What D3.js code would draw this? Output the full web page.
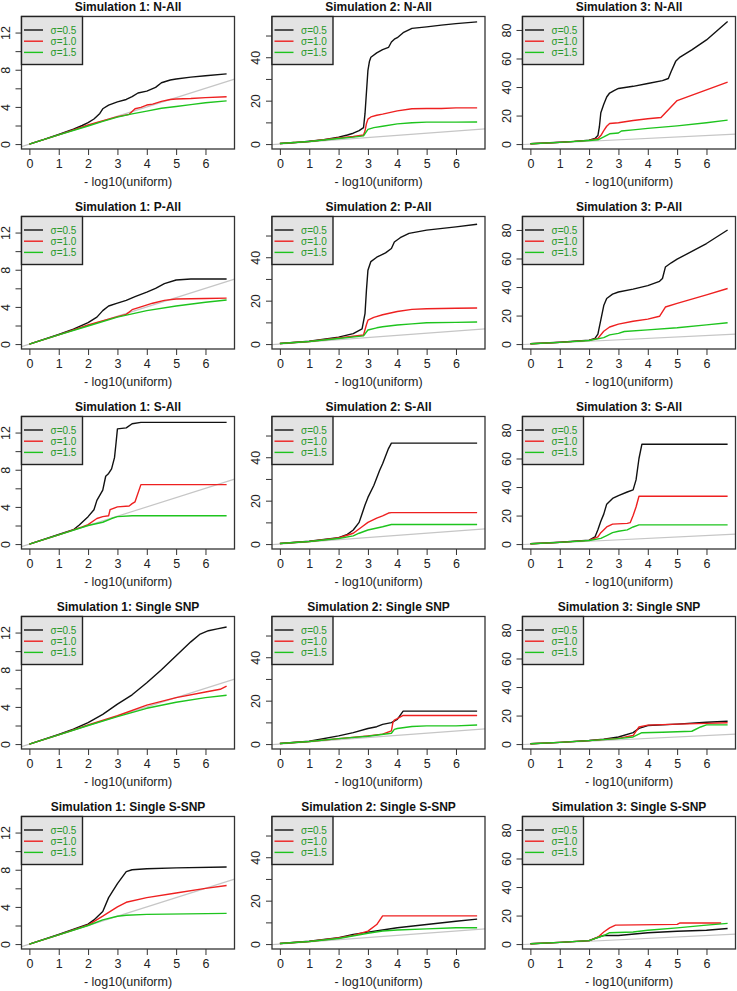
<!DOCTYPE html>
<html><head><meta charset="utf-8">
<script src="https://cdn.jsdelivr.net/npm/d3@7"></script>
<style>body{margin:0;background:#fff}svg{display:block}</style>
</head><body><svg id="c" width="737" height="991"></svg>
<script>
// ---------- labels / ticks ----------
const sims = ["Simulation 1", "Simulation 2", "Simulation 3"];
const rowNames = ["N-All", "P-All", "S-All", "Single SNP", "Single S-SNP"];
const sigmaLabels = ["σ=0.5", "σ=1.0", "σ=1.5"];
const xLabel = "- log10(uniform)";
const xTicks = [0, 1, 2, 3, 4, 5, 6];
const xMax = 6.72;
const yMax = [13.2, 56.5, 86];
const yTicks1 = [0, 2, 4, 6, 8, 10, 12];
const yLabels1 = [0, 4, 8, 12];
const yTicks2 = [0, 10, 20, 30, 40, 50];
const yLabels2 = [0, 20, 40];
const yTicks3 = [0, 20, 40, 60, 80];
const yLabels3 = [0, 20, 40, 60, 80];

// ---------- series: [-log10(expected), -log10(observed)] ----------
// Row 1: N-All
const s1_nall_05 = [[0,0],[0.5,0.5],[1,1.05],[1.5,1.6],[1.8,2.0],[2,2.3],[2.2,2.7],[2.4,3.3],[2.5,3.8],[2.7,4.2],[3,4.55],[3.3,4.8],[3.5,5.1],[3.7,5.5],[4,5.7],[4.3,6.1],[4.5,6.6],[4.8,6.9],[5,7.0],[5.5,7.2],[6,7.35],[6.72,7.55]];
const s1_nall_10 = [[0,0],[1,1],[2,2.05],[3,2.95],[3.4,3.2],[3.6,3.8],[3.8,3.95],[4,4.2],[4.2,4.3],[4.5,4.6],[4.8,4.8],[5,4.85],[5.5,4.9],[6,5.0],[6.72,5.1]];
const s1_nall_15 = [[0,0],[1,1],[2,1.95],[2.5,2.45],[3,2.9],[3.5,3.25],[4,3.55],[4.5,3.85],[5,4.05],[5.5,4.25],[6,4.45],[6.72,4.65]];
const s2_nall_05 = [[0,0.3],[0.5,0.7],[1,1.3],[1.5,2.0],[2,3.2],[2.3,4.2],[2.5,5],[2.7,6.2],[2.85,7.6],[2.9,14],[2.95,24],[3.0,34],[3.05,38],[3.1,40],[3.3,42],[3.5,43.5],[3.7,44.5],[3.8,47],[3.9,48.3],[4,49],[4.2,51.3],[4.5,53.3],[5,54],[5.5,54.8],[6,55.5],[6.72,56.3]];
const s2_nall_10 = [[0,0.3],[1,1.2],[2,2.8],[2.5,3.5],[2.85,4.2],[2.9,6],[2.95,9.5],[3,11.5],[3.1,12.5],[3.3,13.3],[3.5,13.8],[4,15.3],[4.5,16.3],[5,16.4],[5.5,16.4],[6,16.7],[6.72,16.7]];
const s2_nall_15 = [[0,0.3],[1,1.2],[2,2.6],[2.5,3.2],[2.85,3.8],[3,6.8],[3.2,7.6],[3.5,8.2],[4,9.3],[4.5,9.8],[5,10.1],[6,10.1],[6.72,10.2]];
const s3_nall_05 = [[0,0.2],[1,1.3],[1.5,1.9],[2,2.8],[2.2,4],[2.3,6],[2.35,12],[2.4,22],[2.5,28],[2.6,33],[2.7,35.8],[2.85,37.5],[3,39],[3.5,40.5],[4,42.5],[4.5,44.5],[4.7,46],[4.8,51],[4.95,58],[5.1,61],[5.5,66],[6,73],[6.72,86]];
const s3_nall_10 = [[0,0.2],[1,1.2],[2,2.6],[2.3,4],[2.4,6],[2.5,9.5],[2.6,12.5],[2.7,14.4],[3,15],[3.5,16.5],[4,17.8],[4.45,18.6],[5,30.5],[6.72,43.5]];
const s3_nall_15 = [[0,0.2],[1,1.2],[2,2.5],[2.3,3],[2.5,5],[2.7,7.2],[3,7.8],[3.1,9.2],[3.5,10],[4,11],[5,12.8],[6,15],[6.72,16.8]];
// Row 2: P-All
const s1_pall_05 = [[0,0],[1,1.05],[1.5,1.6],[2,2.3],[2.3,2.9],[2.5,3.6],[2.7,4.1],[3,4.4],[3.3,4.7],[3.6,5.1],[4,5.6],[4.3,6.0],[4.6,6.5],[5,6.9],[5.5,7.0],[6.72,7.0]];
const s1_pall_10 = [[0,0],[1,1],[2,2.05],[3,2.95],[3.3,3.2],[3.5,3.7],[3.8,4.0],[4.2,4.4],[4.6,4.7],[5,4.85],[6,4.9],[6.72,4.95]];
const s1_pall_15 = [[0,0],[1,1],[2,1.95],[3,2.9],[4,3.6],[5,4.1],[6,4.5],[6.72,4.75]];
const s2_pall_05 = [[0,0.3],[1,1.3],[2,3.2],[2.5,4.8],[2.8,7],[2.9,14],[2.95,25],[3,34],[3.1,38],[3.3,40],[3.6,42],[3.8,44],[3.9,47],[4.1,49],[4.4,51],[5,52.5],[6,54],[6.72,55.2]];
const s2_pall_10 = [[0,0.3],[1,1.2],[2,2.8],[2.85,4.2],[2.95,9],[3,11],[3.2,12.3],[3.5,13.5],[4,15],[4.5,16],[5,16.3],[6,16.5],[6.72,16.6]];
const s2_pall_15 = [[0,0.3],[1,1.2],[2,2.6],[2.85,3.8],[3,6.5],[3.3,7.5],[3.5,8],[4,8.8],[4.5,9.3],[5,9.8],[6,10],[6.72,10.2]];
const s3_pall_05 = [[0,0.2],[1,1.3],[2,2.8],[2.2,4],[2.3,7],[2.4,17],[2.5,27],[2.6,32],[2.8,35],[3,36.5],[3.5,38.5],[4,41],[4.4,44],[4.5,46],[4.6,54],[4.8,57],[5,59.5],[6,70.5],[6.72,80]];
const s3_pall_10 = [[0,0.2],[1,1.2],[2,2.6],[2.3,4],[2.5,9],[2.7,12],[3,14],[3.5,16],[4,17.5],[4.4,19.5],[4.6,26],[5,28.5],[6,34.5],[6.72,39]];
const s3_pall_15 = [[0,0.2],[1,1.2],[2,2.5],[2.5,4.5],[2.7,6.5],[3,7.5],[3.2,8.8],[4,10],[5,11.5],[6,13.5],[6.72,15]];
// Row 3: S-All
const s1_sall_05 = [[0,0],[1,1.05],[1.5,1.55],[1.7,2.05],[2,2.95],[2.2,3.7],[2.3,4.7],[2.5,5.8],[2.6,7.3],[2.7,7.6],[2.8,8.1],[2.9,9.3],[2.95,10.8],[3,12.4],[3.3,12.5],[3.5,12.95],[3.8,13.1],[6.72,13.1]];
const s1_sall_10 = [[0,0],[1,1],[1.8,1.85],[2,2.1],[2.3,2.75],[2.5,2.95],[2.7,3.05],[2.75,3.7],[3,4.0],[3.4,4.1],[3.5,4.35],[3.6,4.55],[3.8,6.4],[6.72,6.4]];
const s1_sall_15 = [[0,0],[1,1],[2,2.0],[2.5,2.35],[2.8,2.75],[3,2.95],[3.5,3.05],[6.72,3.05]];
const s2_sall_05 = [[0,0.3],[1,1.3],[2,3],[2.3,4.5],[2.5,6.5],[2.7,10],[2.8,14],[2.9,18],[3,21.5],[3.2,27],[3.4,34],[3.5,37],[3.7,44],[3.8,46.5],[6.72,46.5]];
const s2_sall_10 = [[0,0.3],[1,1.2],[2,2.8],[2.5,5],[2.8,8],[3,10],[3.3,12],[3.5,13],[3.7,14.3],[3.8,14.5],[6.72,14.5]];
const s2_sall_15 = [[0,0.3],[1,1.2],[2,2.6],[2.5,3.8],[2.7,5],[3,6.5],[3.5,8],[3.8,9],[6.72,9]];
const s3_sall_05 = [[0,0.2],[1,1.3],[2,2.8],[2.2,5],[2.3,10],[2.4,16],[2.5,21],[2.6,28],[2.8,32],[3,34],[3.3,36.5],[3.5,38],[3.6,45],[3.7,60],[3.8,70],[6.72,70]];
const s3_sall_10 = [[0,0.2],[1,1.2],[2,2.6],[2.3,5],[2.4,8],[2.6,12],[2.8,14],[3.3,14.5],[3.4,15],[3.5,20],[3.6,26],[3.7,33.5],[6.72,33.5]];
const s3_sall_15 = [[0,0.2],[1,1.2],[2,2.5],[2.4,4],[2.6,6],[2.8,8],[3,9],[3.3,10],[3.5,12],[3.7,13.5],[6.72,13.5]];
// Row 4: Single SNP
const s1_snp_05 = [[0,0],[1,1.05],[1.5,1.6],[2,2.3],[2.5,3.2],[3,4.3],[3.5,5.3],[4,6.6],[4.5,8.0],[5,9.5],[5.5,11],[5.8,11.8],[6.1,12.2],[6.4,12.4],[6.72,12.6]];
const s1_snp_10 = [[0,0],[1,1],[2,2.05],[3,3.05],[4,4.2],[5,5.0],[6,5.6],[6.5,5.9],[6.72,6.25]];
const s1_snp_15 = [[0,0],[1,1],[2,2.0],[3,2.95],[4,3.85],[5,4.5],[6,5.0],[6.72,5.25]];
const s2_snp_05 = [[0,0.3],[1,1.3],[2,3.8],[2.5,5.3],[3,7.2],[3.3,8],[3.5,9.1],[3.8,9.9],[4,11.4],[4.2,15.2],[6.72,15.2]];
const s2_snp_10 = [[0,0.3],[1,1.2],[2,2.5],[3,3.8],[3.5,4.6],[3.8,6.1],[3.85,9.9],[3.9,11],[4,11.7],[4.2,13.2],[6.72,13.2]];
const s2_snp_15 = [[0,0.3],[1,1.2],[2,2.5],[3,3.6],[3.8,5],[3.9,6.8],[4,7.2],[4.5,8.1],[5,8.4],[6,8.4],[6.72,8.8]];
const s3_snp_05 = [[0,0.2],[1,1.2],[2,2.5],[2.5,3.5],[3,5],[3.5,8],[3.7,11],[4,13],[5,14],[6,15.3],[6.72,16]];
const s3_snp_10 = [[0,0.2],[1,1.2],[2,2.4],[3,4],[3.5,6],[3.7,12],[4,13.3],[5,14],[6,14.5],[6.72,15]];
const s3_snp_15 = [[0,0.2],[1,1.2],[2,2.4],[3,3.8],[3.5,5],[3.8,8],[4.5,8.3],[5.5,9],[5.8,12],[6,13.5],[6.72,13.5]];
// Row 5: Single S-SNP
const s1_ssnp_05 = [[0,0],[1,1.05],[2,2.15],[2.2,2.6],[2.5,3.5],[2.7,5],[3,6.5],[3.3,7.8],[3.5,8.0],[4,8.1],[5,8.2],[6.72,8.3]];
const s1_ssnp_10 = [[0,0],[1,1],[2,2.05],[2.5,3.0],[3,4.0],[3.3,4.5],[4,5],[5,5.5],[6,6],[6.72,6.3]];
const s1_ssnp_15 = [[0,0],[1,1],[2,2.0],[2.5,2.6],[3,3.0],[3.3,3.1],[4,3.2],[6.72,3.3]];
const s2_ssnp_05 = [[0,0.3],[1,1.3],[2,3],[2.5,4.5],[3,5.5],[3.5,6.5],[4,7.5],[5,9],[6,10.5],[6.72,11.5]];
const s2_ssnp_10 = [[0,0.3],[1,1.2],[2,2.8],[2.5,4],[3,6],[3.3,9],[3.5,13],[6.72,13]];
const s2_ssnp_15 = [[0,0.3],[1,1.2],[2,2.6],[3,5],[3.5,6],[4,6.5],[5,7],[6,7.5],[6.72,7.5]];
const s3_ssnp_05 = [[0,0.2],[1,1.2],[2,2.4],[2.3,4.8],[2.5,6],[3,6],[4,8],[5,9],[6,9.7],[6.72,10.9]];
const s3_ssnp_10 = [[0,0.2],[1,1.2],[2,2.4],[2.3,4.8],[2.5,8.5],[2.7,11.4],[2.9,13.3],[5,13.8],[5.1,14.8],[6.5,14.8]];
const s3_ssnp_15 = [[0,0.2],[1,1.2],[2,2.4],[2.5,6],[2.7,8],[3.5,8.5],[4,9.7],[5,11.4],[6,13.3],[6.72,14.5]];

// table built from the arrays above: [row][col] -> [σ=0.5, σ=1.0, σ=1.5]
const table = [
  [[s1_nall_05,s1_nall_10,s1_nall_15],[s2_nall_05,s2_nall_10,s2_nall_15],[s3_nall_05,s3_nall_10,s3_nall_15]],
  [[s1_pall_05,s1_pall_10,s1_pall_15],[s2_pall_05,s2_pall_10,s2_pall_15],[s3_pall_05,s3_pall_10,s3_pall_15]],
  [[s1_sall_05,s1_sall_10,s1_sall_15],[s2_sall_05,s2_sall_10,s2_sall_15],[s3_sall_05,s3_sall_10,s3_sall_15]],
  [[s1_snp_05,s1_snp_10,s1_snp_15],[s2_snp_05,s2_snp_10,s2_snp_15],[s3_snp_05,s3_snp_10,s3_snp_15]],
  [[s1_ssnp_05,s1_ssnp_10,s1_ssnp_15],[s2_ssnp_05,s2_ssnp_10,s2_ssnp_15],[s3_ssnp_05,s3_ssnp_10,s3_ssnp_15]]
];
const yTickSets = [yTicks1, yTicks2, yTicks3];
const yLabelSets = [yLabels1, yLabels2, yLabels3];

// ---------- drawing ----------
const svg = d3.select("#c");
const FONT = "'Liberation Sans', Arial, Helvetica, sans-serif";
const colors = ["#111111", "#ee2020", "#1ec41e"];
const legendText = "#279827";
const colW = 250.5, rowH = 200, left0 = 21.5, top0 = 16.5, W = 213, H = 132.5;

svg.append("rect").attr("width", 737).attr("height", 991).attr("fill", "#fff");

rowNames.forEach((rn, r) => {
  sims.forEach((sn, c) => {
    const L = left0 + c * colW, T = top0 + r * rowH;
    const x = d3.scaleLinear().domain([-0.04 * xMax, 1.04 * xMax]).range([L, L + W]);
    const y = d3.scaleLinear().domain([-0.04 * yMax[c], 1.04 * yMax[c]]).range([T + H, T]);
    const g = svg.append("g");
    const cid = `clip${r}_${c}`;
    g.append("clipPath").attr("id", cid).append("rect")
      .attr("x", L).attr("y", T).attr("width", W).attr("height", H);
    const plot = g.append("g").attr("clip-path", `url(#${cid})`);

    // y = x reference line
    const xd = x.domain();
    plot.append("path")
      .attr("d", d3.line().x(d => x(d[0])).y(d => y(d[1]))([[xd[0], xd[0]], [xd[1], xd[1]]]))
      .attr("fill", "none").attr("stroke", "#c6c6c6").attr("stroke-width", 1.2);

    const line = d3.line().x(d => x(d[0])).y(d => y(d[1]));
    table[r][c].forEach((ser, k) => {
      plot.append("path").attr("d", line(ser))
        .attr("fill", "none").attr("stroke", colors[k]).attr("stroke-width", 1.4)
        .attr("stroke-linejoin", "round");
    });

    // axes
    const xa = g.append("g").attr("transform", `translate(0,${T + H})`)
      .call(d3.axisBottom(x).tickValues(xTicks).tickSize(6).tickPadding(4).tickFormat(d3.format("d")));
    xa.select(".domain").remove();
    xa.selectAll("line").attr("stroke", "#333");
    xa.selectAll("text").attr("font-family", FONT).attr("font-size", 12.5).attr("fill", "#222");

    const labs = yLabelSets[c];
    const ya = g.append("g").attr("transform", `translate(${L},0)`)
      .call(d3.axisLeft(y).tickValues(yTickSets[c]).tickSize(6)
        .tickFormat(d => labs.includes(d) ? String(d) : ""));
    ya.select(".domain").remove();
    ya.selectAll("line").attr("stroke", "#333");
    ya.selectAll("text")
      .attr("font-family", FONT).attr("font-size", 12.5).attr("fill", "#222")
      .attr("transform", "rotate(-90)").attr("x", 0).attr("y", -12).attr("dy", 0)
      .attr("text-anchor", "middle");

    // box
    g.append("rect").attr("x", L).attr("y", T).attr("width", W).attr("height", H)
      .attr("fill", "none").attr("stroke", "#333").attr("stroke-width", 1.3);

    // title
    g.append("text").attr("x", L + W / 2).attr("y", T - 5.5)
      .attr("text-anchor", "middle").attr("font-family", FONT)
      .attr("font-size", 12).attr("font-weight", "bold").attr("fill", "#111")
      .text(`${sn}: ${rn}`);

    // x label
    g.append("text").attr("x", L + W / 2).attr("y", T + H + 37)
      .attr("text-anchor", "middle").attr("font-family", FONT)
      .attr("font-size", 12.5).attr("fill", "#222").text(xLabel);

    // legend
    const lg = g.append("g");
    lg.append("rect").attr("x", L).attr("y", T).attr("width", 61).attr("height", 48)
      .attr("fill", "#e3e3e3").attr("stroke", "#222").attr("stroke-width", 1.4);
    sigmaLabels.forEach((s, k) => {
      const yy = T + 13.5 + k * 11.2;
      lg.append("line").attr("x1", L + 2.5).attr("x2", L + 21.5).attr("y1", yy).attr("y2", yy)
        .attr("stroke", colors[k]).attr("stroke-width", 1.4);
      lg.append("text").attr("x", L + 29).attr("y", yy).attr("dy", "0.35em")
        .attr("font-family", FONT).attr("font-size", 10).attr("fill", legendText).text(s);
    });
  });
});
</script></body></html>
